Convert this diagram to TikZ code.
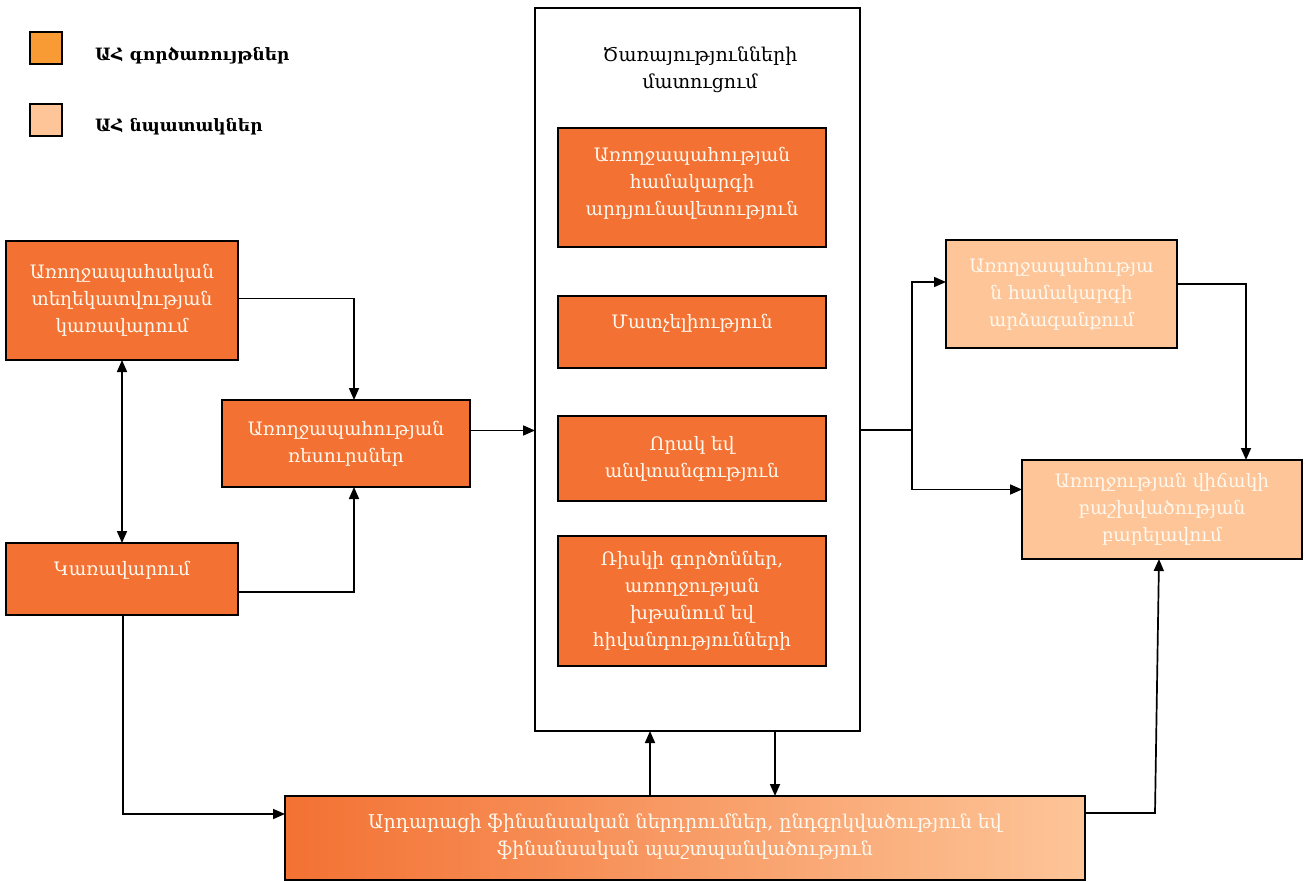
\documentclass[tikz,border=0pt]{standalone}
\usepackage{fontspec}
\setmainfont{DejaVu Serif}
\usetikzlibrary{arrows.meta,positioning}
\definecolor{fnorange}{HTML}{F99B35}
\definecolor{boxorange}{HTML}{F37133}
\definecolor{lightorange}{HTML}{FDC598}
\definecolor{txtwhite}{HTML}{FFF8EE}
\tikzset{
  box/.style={draw=black, line width=1.5pt, fill=boxorange, text=txtwhite, align=center,
    anchor=north west, inner sep=2pt, outer sep=0pt, font=\fontsize{18.5}{27}\selectfont},
  goalbox/.style={box, fill=lightorange},
  legsq/.style={draw=black, line width=1.4pt, anchor=north west, minimum width=32pt, minimum height=32pt, inner sep=0pt, outer sep=0pt},
  legtxt/.style={anchor=west, font=\fontsize{17}{20}\selectfont\bfseries, text=black, inner sep=0pt},
  arr/.style={line width=1.7pt, -{Triangle[length=12pt,width=10pt]}},
  dblarr/.style={line width=1.7pt, {Triangle[length=12pt,width=10pt]}-{Triangle[length=12pt,width=10pt]}},
  ln/.style={line width=1.7pt}
}
\begin{document}
\begin{tikzpicture}[x=1pt,y=-1pt]
\useasboundingbox (0,0) rectangle (1306,882);
% legend
\node[legsq, fill=fnorange] (lg1) at (30,32) {};
\node[legsq, fill=lightorange] (lg2) at (30,104) {};
\node[legtxt] (lt1) at (95,56) {ԱՀ գործառույթներ};
\node[legtxt] (lt2) at (95,127) {ԱՀ նպատակներ};
% left boxes
\node[box, minimum width=232pt, minimum height=119pt] (A) at (6,241)
  {Առողջապահական\\տեղեկատվության\\կառավարում};
\node[box, minimum width=248pt, minimum height=87pt] (B) at (222,400)
  {Առողջապահության\\ռեսուրսներ};
\node[box, minimum width=232pt, minimum height=72pt, text depth=22pt] (C) at (6,543)
  {Կառավարում};
% container
\node[draw=black, line width=1.5pt, fill=white, anchor=north west, minimum width=325pt, minimum height=723pt, inner sep=0pt, outer sep=0pt] (cont) at (535,8) {};
\node[align=center, font=\fontsize{19}{27}\selectfont, text=black] (ttl) at (700,70)
  {Ծառայությունների\\մատուցում};
\node[box, minimum width=268pt, minimum height=119pt, text depth=12pt] (I1) at (558,128)
  {Առողջապահության\\համակարգի\\արդյունավետություն};
\node[box, minimum width=268pt, minimum height=72pt, text depth=22pt] (I2) at (558,296)
  {Մատչելիություն};
\node[box, minimum width=268pt, minimum height=85pt] (I3) at (558,416)
  {Որակ եվ\\անվտանգություն};
\node[box, minimum width=268pt, minimum height=130pt] (I4) at (558,536)
  {Ռիսկի գործոններ,\\առողջության\\խթանում եվ\\հիվանդությունների};
% right boxes
\node[goalbox, minimum width=231pt, minimum height=108pt] (R1) at (946,240)
  {Առողջապահությա\\ն համակարգի\\արձագանքում};
\node[goalbox, minimum width=280pt, minimum height=99pt] (R2) at (1022,460)
  {Առողջության վիճակի\\բաշխվածության\\բարելավում};
% bottom box
\node[box, left color=boxorange, right color=lightorange, minimum width=800pt, minimum height=84pt, text depth=6pt, font=\fontsize{19}{27}\selectfont] (bot) at (285,796)
  {Արդարացի ֆինանսական ներդրումներ, ընդգրկվածություն եվ\\ֆինանսական պաշտպանվածություն};
% connectors
\draw[arr] ([yshift=2pt]A.east) -| ([xshift=8pt]B.north);
\draw[dblarr] (A.south) -- (C.north);
\draw[arr] ([yshift=-13pt]C.east) -| ([xshift=8pt]B.south);
\draw[arr] ([yshift=13pt]B.east) -- ([yshift=13pt]B.east -| cont.west);
\coordinate (split) at (912,430);
\draw[ln] (split -| cont.east) -- (split);
\draw[arr] (split) |- ([yshift=12pt]R1.west);
\draw[arr] (split) |- ([yshift=20pt]R2.west);
\draw[arr] ([yshift=10pt]R1.east) -| ([xshift=84pt]R2.north);
\draw[arr] ([xshift=1pt]C.south) |- ([yshift=24pt]bot.west);
\draw[arr] ([xshift=-35pt]bot.north) -- ([xshift=-35pt]bot.north |- cont.south);
\draw[arr] ([xshift=77.5pt]cont.south) -- ([xshift=77.5pt]cont.south |- bot.north);
\coordinate (br) at (1155,813);
\draw[arr] ([yshift=25pt]bot.east) -- (br) -- ([xshift=-3pt]R2.south);
\end{tikzpicture}
\end{document}
